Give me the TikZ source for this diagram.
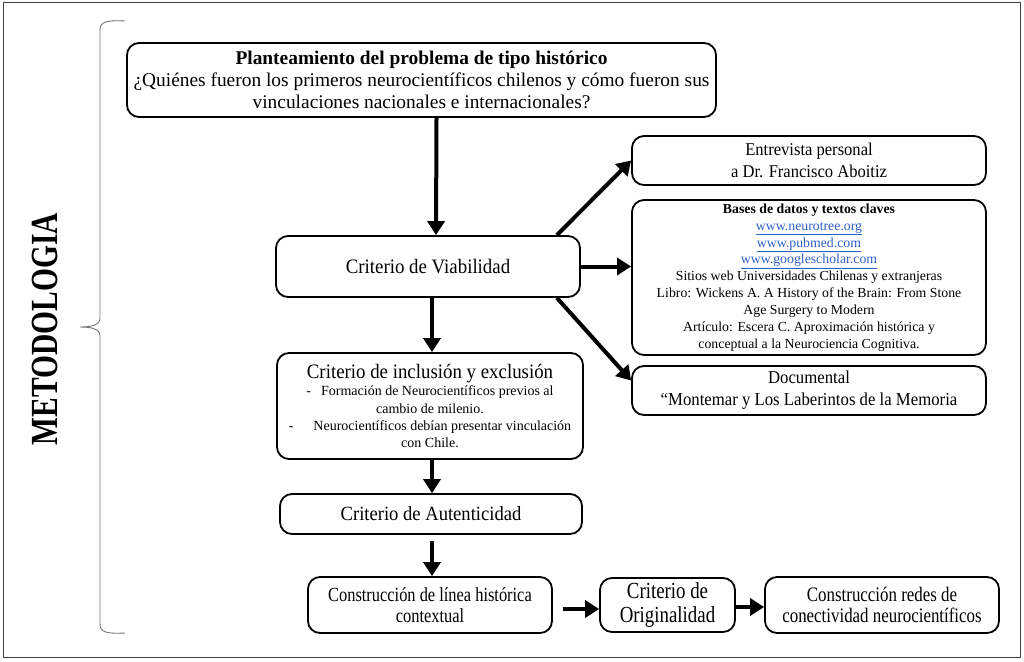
\documentclass[tikz,border=0pt]{standalone}
\usepackage{fontspec}
\setmainfont{Liberation Serif}
\newfontfamily\cnd[FakeStretch=0.92]{Liberation Serif}
\newfontfamily\nrw[FakeStretch=0.82]{Liberation Serif}
\usetikzlibrary{arrows.meta}
\definecolor{urlblue}{RGB}{45,95,195}
\tikzset{
  box/.style={draw, line width=1.8pt, rounded corners=12pt, align=center, inner sep=0pt},
  arr/.style={line width=4pt, -{Triangle[length=14pt,width=17pt]}},
  fs/.style n args={2}{font=\fontsize{#1}{#2}\selectfont},
  fc/.style n args={2}{font=\cnd\fontsize{#1}{#2}\selectfont},
  fn/.style n args={2}{font=\nrw\fontsize{#1}{#2}\selectfont}
}
\newcommand{\lnk}[1]{\textcolor{urlblue}{\underline{#1}}}
\begin{document}
\begin{tikzpicture}[x=1pt,y=-1pt]
\useasboundingbox (0,0) rectangle (1024,661);
\draw[line width=1pt, black!75] (3,3) rectangle (1020,657);
% brace
\draw[line width=0.9pt, black!55] (125,21) .. controls (106,20) and (100,22) .. (100,30) -- (100,318)
  .. controls (100,325) and (92,327) .. (80,327) .. controls (92,327) and (100,329) .. (100,336)
  -- (100,624) .. controls (100,632) and (106,634) .. (125,633);
\node[rotate=90, font=\bfseries\fontsize{29.5}{30}\selectfont] (met) at (45,329) {\scalebox{1}[1.3]{METODOLOGIA}};

\node[box, minimum width=589pt, minimum height=74pt, fs={19.4}{22}] (top) at (421.5,80)
  {\textbf{Planteamiento del problema de tipo histórico}\\
   ¿Quiénes fueron los primeros neurocientíficos chilenos y cómo fueron sus\\
   vinculaciones nacionales e internacionales?};
\node[box, minimum width=304pt, minimum height=61pt, fc={20.5}{22}] (viab) at (428,266.5) {Criterio de Viabilidad};
\node[box, minimum width=354pt, minimum height=49pt, fc={18}{22}] (entr) at (809,160.5)
  {Entrevista personal\\a Dr. Francisco Aboitiz};
\node[box, minimum width=354pt, minimum height=155pt, fs={13.8}{16.9}] (bases) at (809,277.5)
  {{\bfseries\fontsize{13.8}{16.9}\selectfont Bases de datos y textos claves}\\
   \lnk{www.neurotree.org}\\
   \lnk{www.pubmed.com}\\
   \lnk{www.googlescholar.com}\\
   Sitios web Universidades Chilenas y extranjeras\\
   Libro: Wickens A. A History of the Brain: From Stone\\
   Age Surgery to Modern\\
   Artículo: Escera C. Aproximación histórica y\\
   conceptual a la Neurociencia Cognitiva.};
\node[box, minimum width=354pt, minimum height=49pt, fc={18.2}{22}] (doc) at (809,390.5)
  {Documental\\“Montemar y Los Laberintos de la Memoria};
\node[box, minimum width=306pt, minimum height=106pt, fs={14}{17.3}] (incl) at (430,406)
  {{\cnd\fontsize{20.5}{20}\selectfont Criterio de inclusión y exclusión}\\
   -\hspace{10pt}Formación de Neurocientíficos previos al\\
   cambio de milenio.\\
   -\hspace{20pt}Neurocientíficos debían presentar vinculación\\
   con Chile.};
\node[box, minimum width=302pt, minimum height=40pt, fc={20.2}{22}] (aut) at (431,514) {Criterio de Autenticidad};
\node[box, minimum width=244pt, minimum height=56pt, fn={20}{21.5}] (con) at (430,605)
  {Construcción de línea histórica\\contextual};
\node[box, minimum width=135pt, minimum height=54pt, fn={23}{24}] (ori) at (667.5,605)
  {Criterio de\\Originalidad};
\node[box, minimum width=234pt, minimum height=56pt, fn={20.6}{21.5}] (red) at (882,605)
  {Construcción redes de\\conectividad neurocientíficos};

\draw[arr] ([xshift=15pt]top.south) -- ([xshift=8pt]viab.north);
\draw[arr] ([xshift=-24pt]viab.north east) -- (entr.west);
\draw[arr] (viab.east) -- (viab.east -| bases.west);
\draw[arr] ([xshift=-24pt]viab.south east) -- ([yshift=10pt]doc.west);
\draw[arr] ([xshift=4pt]viab.south) -- ([xshift=2pt]incl.north);
\draw[arr] ([xshift=2pt]incl.south) -- ([xshift=1pt]aut.north);
\draw[arr] ([shift={(1pt,-6pt)}]aut.south) -- ([xshift=2pt]con.north);
\draw[arr] ([shift={(10pt,-4pt)}]con.east) -- ([yshift=-4pt]ori.west);
\draw[arr] ([yshift=-2pt]ori.east) -- ([yshift=-2pt]red.west);
\end{tikzpicture}
\end{document}
